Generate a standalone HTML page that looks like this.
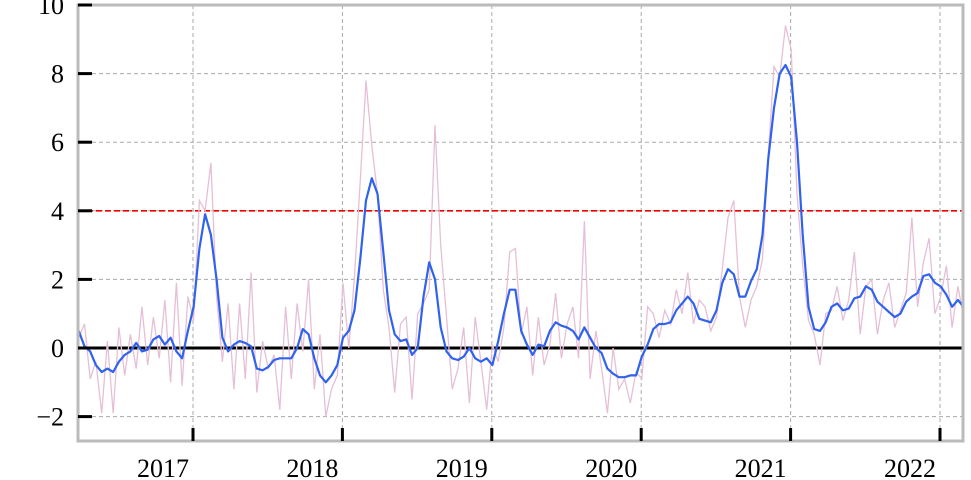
<!DOCTYPE html>
<html><head><meta charset="utf-8"><style>
html,body{margin:0;padding:0;background:#fff;width:971px;height:480px;overflow:hidden}
svg text{font-family:"Liberation Serif",serif;font-size:26px;fill:#000}
</style></head><body>
<svg id="chart" width="971" height="480" viewBox="0 0 971 480" xmlns="http://www.w3.org/2000/svg">
<g id="grid"></g>
<g id="series"></g>
<g id="axes"></g>
</svg>
<script>
const startYear = 2016.235;
const stepYears = 1/26;
const smoothValues = [0.5,0.05,-0.1,-0.5,-0.7,-0.6,-0.7,-0.4,-0.2,-0.1,0.15,-0.1,-0.05,0.25,0.35,0.1,0.3,-0.1,-0.3,0.5,1.2,2.9,3.9,3.3,2.0,0.3,-0.1,0.1,0.2,0.15,0.05,-0.6,-0.65,-0.55,-0.35,-0.3,-0.3,-0.3,0.0,0.55,0.4,-0.3,-0.8,-1.0,-0.8,-0.5,0.3,0.5,1.1,2.6,4.3,4.95,4.5,2.8,1.1,0.4,0.2,0.25,-0.2,0.0,1.5,2.5,2.0,0.6,-0.1,-0.3,-0.35,-0.25,0.0,-0.3,-0.4,-0.3,-0.5,0.2,1.0,1.7,1.7,0.5,0.1,-0.2,0.1,0.05,0.5,0.75,0.65,0.6,0.5,0.25,0.6,0.3,0.0,-0.15,-0.6,-0.75,-0.85,-0.85,-0.8,-0.8,-0.25,0.1,0.55,0.7,0.7,0.75,1.1,1.3,1.5,1.3,0.85,0.8,0.75,1.1,1.9,2.3,2.15,1.5,1.5,1.95,2.3,3.3,5.5,7.0,8.0,8.25,7.9,6.0,3.3,1.2,0.55,0.5,0.75,1.2,1.3,1.1,1.15,1.45,1.5,1.8,1.7,1.35,1.2,1.05,0.9,1.0,1.35,1.5,1.6,2.1,2.15,1.9,1.8,1.55,1.2,1.4,1.2];
const rawValues = [0.3,0.7,-0.9,-0.4,-1.9,0.2,-1.9,0.6,-0.8,0.4,-0.6,1.2,-0.5,0.9,-0.3,1.4,-1.0,1.9,-1.1,1.5,0.8,4.3,4.0,5.4,1.5,-0.4,1.3,-1.2,1.3,-0.9,2.2,-1.3,0.2,-0.6,-0.2,-1.8,1.2,-0.9,1.3,-0.1,2.0,-1.2,0.4,-2.0,-1.2,-0.8,1.9,0.0,2.1,4.9,7.8,5.9,4.5,1.7,0.6,-1.3,0.7,0.9,-1.5,1.0,1.3,1.7,6.5,3.0,0.9,-1.2,-0.6,0.6,-1.6,0.9,-0.4,-1.8,0.1,-0.4,0.6,2.8,2.9,0.4,1.2,-0.8,0.9,-0.5,0.1,1.6,-0.3,0.7,1.2,-0.3,3.7,-0.9,0.5,-0.6,-1.9,0.0,-1.2,-0.9,-1.6,-0.7,-0.9,1.2,1.0,0.3,1.1,0.7,1.7,1.0,2.2,0.7,1.4,1.2,0.5,0.9,2.3,3.8,4.3,1.5,0.6,1.4,1.8,2.6,5.6,8.2,7.9,9.4,8.7,4.5,2.4,0.8,0.4,-0.5,1.0,1.1,1.8,0.8,1.4,2.8,0.4,1.8,2.0,0.4,1.4,1.9,0.6,1.1,1.6,3.8,1.2,2.5,3.2,1.0,1.5,2.4,0.6,1.8,0.9];
const yTicks = [-2,0,2,4,6,8,10];
const yTickLabels = ["\u22122","0","2","4","6","8","10"];
const xTicks = [2017,2018,2019,2020,2021,2022];
const threshold = [4];

const NS="http://www.w3.org/2000/svg";
const L=78,R=963,T=5,B=441;
const xs=y=>193+(y-2017)*149.4;
const ys=v=>348-v*34.3;
function mk(tag,parent,attrs){const e=document.createElementNS(NS,tag);for(const k in attrs)e.setAttribute(k,attrs[k]);document.getElementById(parent).appendChild(e);return e;}

yTicks.forEach((t,i)=>{
  if(t!==0&&t!==10){const g=mk('line','grid',{x1:L,x2:R,y1:ys(t),y2:ys(t),stroke:'#aaa','stroke-width':1,'stroke-dasharray':'4,3'});
  
  }
});
xTicks.forEach(t=>{
  const g=mk('line','grid',{x1:xs(t),x2:xs(t),y1:T,y2:B,stroke:'#aaa','stroke-width':1,'stroke-dasharray':'4,3'});
  
  
});
const zl=mk('line','series',{x1:L,x2:R,y1:ys(0),y2:ys(0),stroke:'#000','stroke-width':3});


const th=mk('line','series',{x1:L,x2:R,y1:ys(threshold[0]),y2:ys(threshold[0]),stroke:'#e00','stroke-width':1.6,'stroke-dasharray':'6,3'});



function pts(arr){return arr.map((v,i)=>xs(startYear+i*stepYears).toFixed(1)+','+ys(v).toFixed(1)).join(' ');}
const raw=mk('polyline','series',{points:pts(rawValues),fill:'none',stroke:'#e6bfd6','stroke-width':1.3});


const sm=mk('polyline','series',{points:pts(smoothValues),fill:'none',stroke:'#2f62ee','stroke-width':2.2,'stroke-linejoin':'round'});



const mask1=mk('rect','axes',{x:R+1,y:0,width:20,height:480,fill:'#fff'});


const fr=mk('rect','axes',{x:L,y:T,width:R-L,height:B-T,fill:'none',stroke:'#bbb','stroke-width':3});



yTicks.forEach((t,i)=>{
  const tk=mk('line','axes',{x1:L,x2:L+14,y1:ys(t),y2:ys(t),stroke:'#000','stroke-width':3});
  
  
  const tx=mk('text','axes',{x:64,y:ys(t)+9,'text-anchor':'end'});
  tx.textContent=yTickLabels[i];
  
  
});
xTicks.forEach(t=>{
  const tk=mk('line','axes',{x1:xs(t),x2:xs(t),y1:B-13,y2:B,stroke:'#000','stroke-width':3});
  
  
  const tx=mk('text','axes',{x:xs(t)-30,y:477,'text-anchor':'middle'});
  tx.textContent=String(t);
  
  
});
</script>
</body></html>
